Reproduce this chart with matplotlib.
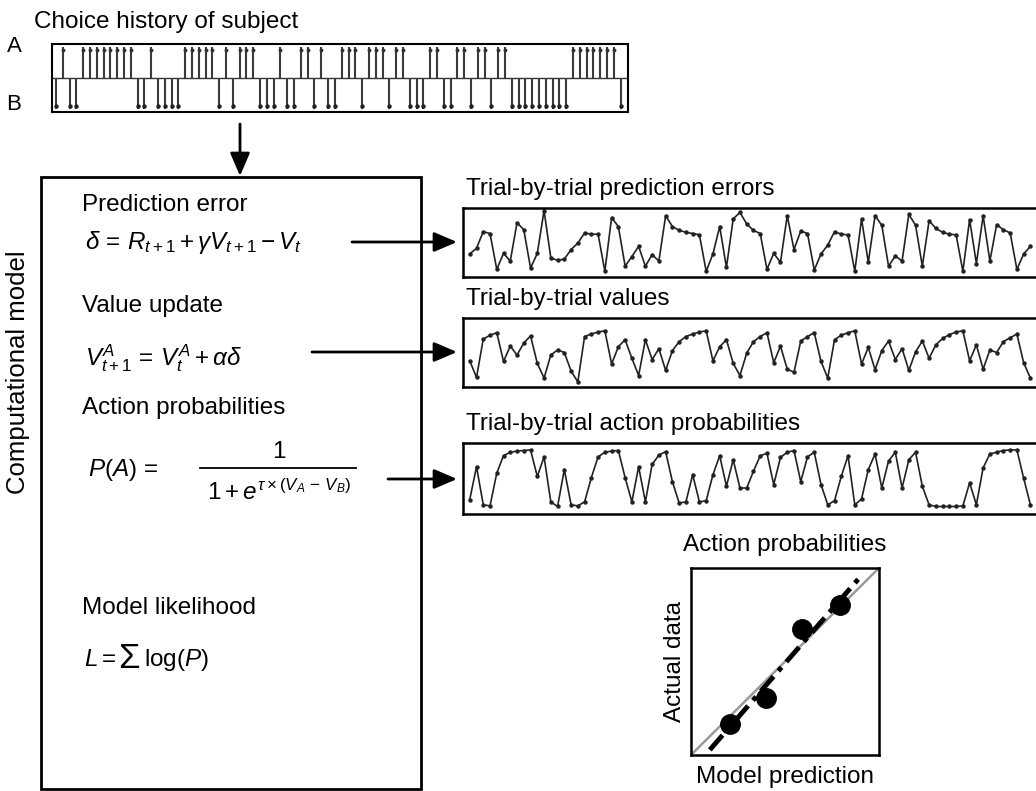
import numpy as np
import matplotlib.pyplot as plt
from matplotlib.patches import Rectangle

plt.rcParams['font.family'] = ['Liberation Sans', 'DejaVu Sans']
plt.rcParams['mathtext.fontset'] = 'custom'
plt.rcParams['mathtext.rm'] = 'Liberation Sans'
plt.rcParams['mathtext.it'] = 'Liberation Sans:italic'
plt.rcParams['mathtext.bf'] = 'Liberation Sans:bold'

W, H = 1036, 791

# choice on each trial (A = upper row, B = lower row)
choices = list("BABB" "AAAAAAAA" "BBA" "BBBB" "AAAAA" "BABAAA" "BBBA" "BBAA"
               "BABB" "AAAB" "AAAB" "AAB" "BB" "AA" "BB" "AA" "B" "AA" "B" "AA"
               "BBBBBBBBB" "AAAAAAA" "B")
trials = np.arange(len(choices))

pred_errors = [0.32, 0.41, 0.67, 0.64, 0.08, 0.33, 0.21, 0.81, 0.70, 0.10,
               0.33, 1.00, 0.26, 0.22, 0.24, 0.39, 0.49, 0.65, 0.63, 0.63,
               0.05, 0.89, 0.75, 0.13, 0.28, 0.44, 0.13, 0.31, 0.21, 0.92,
               0.75, 0.69, 0.66, 0.64, 0.62, 0.05, 0.32, 0.75, 0.11, 0.87,
               0.97, 0.79, 0.69, 0.64, 0.08, 0.33, 0.19, 0.92, 0.39, 0.68,
               0.64, 0.07, 0.32, 0.46, 0.67, 0.63, 0.62, 0.05, 0.87, 0.19,
               0.92, 0.77, 0.13, 0.29, 0.21, 0.94, 0.77, 0.13, 0.84, 0.72,
               0.66, 0.63, 0.62, 0.05, 0.86, 0.17, 0.92, 0.21, 0.78, 0.70,
               0.65, 0.08, 0.32, 0.44]

values = [0.37, 0.11, 0.71, 0.77, 0.81, 0.36, 0.60, 0.46, 0.65, 0.76,
          0.33, 0.10, 0.46, 0.54, 0.50, 0.21, 0.04, 0.75, 0.79, 0.82,
          0.84, 0.32, 0.59, 0.70, 0.41, 0.14, 0.70, 0.39, 0.56, 0.22,
          0.53, 0.67, 0.75, 0.79, 0.82, 0.84, 0.37, 0.59, 0.70, 0.33,
          0.14, 0.49, 0.67, 0.75, 0.81, 0.34, 0.60, 0.24, 0.19, 0.68,
          0.75, 0.81, 0.36, 0.10, 0.70, 0.77, 0.81, 0.84, 0.32, 0.58,
          0.23, 0.53, 0.68, 0.39, 0.56, 0.22, 0.51, 0.68, 0.41, 0.62,
          0.72, 0.78, 0.82, 0.84, 0.37, 0.62, 0.24, 0.54, 0.50, 0.67,
          0.73, 0.79, 0.34, 0.10]

action_probs = [0.14, 0.71, 0.05, 0.03, 0.60, 0.90, 0.96, 0.98, 0.99, 1.00,
                0.54, 0.88, 0.10, 0.02, 0.66, 0.05, 0.03, 0.10, 0.52, 0.88,
                0.96, 0.98, 0.99, 0.52, 0.10, 0.71, 0.10, 0.75, 0.91, 0.97,
                0.45, 0.08, 0.10, 0.57, 0.10, 0.12, 0.57, 0.90, 0.37, 0.83,
                0.34, 0.34, 0.63, 0.90, 0.94, 0.40, 0.87, 0.96, 0.99, 0.45,
                0.88, 0.96, 0.40, 0.05, 0.12, 0.54, 0.90, 0.05, 0.15, 0.66,
                0.93, 0.34, 0.81, 0.96, 0.34, 0.83, 0.96, 0.37, 0.05, 0.02,
                0.02, 0.02, 0.02, 0.03, 0.43, 0.05, 0.69, 0.93, 0.96, 0.99,
                1.00, 1.00, 0.51, 0.05]

model_pred = [0.205, 0.397, 0.593, 0.795]
actual_data = [0.167, 0.306, 0.672, 0.803]

fig = plt.figure(figsize=(W / 100, H / 100), dpi=100)
bg = fig.add_axes([0, 0, 1, 1])
bg.set_xlim(0, W)
bg.set_ylim(H, 0)
bg.axis('off')


def box_axes(x0, y0, x1, y1, lw=1.8):
    ax = fig.add_axes([x0 / W, 1 - y1 / H, (x1 - x0) / W, (y1 - y0) / H])
    ax.set_xticks([])
    ax.set_yticks([])
    for s in ax.spines.values():
        s.set_linewidth(lw)
    return ax


def arrow(x0, y0, x1, y1):
    bg.annotate('', xy=(x1, y1), xytext=(x0, y0),
                arrowprops=dict(arrowstyle='-|>,head_length=0.7,head_width=0.3',
                                color='k', lw=2, shrinkA=0, shrinkB=0,
                                mutation_scale=20))


fs = 17.5

# choice history
bg.text(34, 22, 'Choice history of subject', fontsize=fs, va='center')
bg.text(14, 47, 'A', fontsize=16, va='center', ha='center')
bg.text(14, 104, 'B', fontsize=16, va='center', ha='center')
ch = box_axes(52, 44, 628, 112, lw=1.5)
ch.set_xlim(-0.6, 84.1)
ch.set_ylim(-0.1, 1.1)
ch.hlines(0.5, -0.6, 84.1, color='#333333', lw=1)
for t, c in zip(trials, choices):
    if c == 'A':
        ch.vlines(t, 0.5, 1.05, color='#3a3a3a', lw=1.5)
        ch.plot(t, 1, 'o', color='#333333', ms=1.8)
    else:
        ch.vlines(t, -0.05, 0.5, color='#3a3a3a', lw=1.5)
        ch.plot(t, 0, 'o', color='#222222', ms=2.2)

arrow(240, 124, 240, 176)

# computational model box
bg.add_patch(Rectangle((41, 177), 380, 612, fill=False, lw=2, ec='k'))
bg.text(18, 372, 'Computational model', fontsize=18.5, rotation=90,
        va='center', ha='center')

bg.text(82, 205, 'Prediction error', fontsize=fs, va='center')
bg.text(85, 242, r'$\delta\,=\,R_{t+1} + \gamma V_{t+1} - V_t$', fontsize=fs, va='center')
bg.text(82, 306, 'Value update', fontsize=fs, va='center')
bg.text(85, 358, r'$V^A_{t+1}\,=\,V^A_t + \alpha\delta$', fontsize=fs, va='center')
bg.text(82, 408, 'Action probabilities', fontsize=fs, va='center')
bg.text(88, 470, r'$P(A)\,=\,$', fontsize=fs, va='center')
bg.text(279, 452, '1', fontsize=fs, va='center', ha='center')
bg.plot([200, 356], [468, 468], color='k', lw=1.3)
bg.text(279, 492, r'$1 + e^{\tau \times (V_A\,-\,V_B)}$', fontsize=fs,
        va='center', ha='center')
bg.text(82, 608, 'Model likelihood', fontsize=fs, va='center')
bg.text(84, 660, r'$L$', fontsize=fs, va='center')
bg.text(102, 660, '=', fontsize=fs, va='center')
bg.text(118, 659, '\u03a3', fontsize=25, va='center')
bg.text(144, 660, r'log($P$)', fontsize=fs, va='center')

arrow(352, 242, 457, 242)
arrow(312, 352, 457, 352)
arrow(388, 479, 457, 479)

# trial-by-trial traces
traces = [
    ('Trial-by-trial prediction errors', pred_errors, 208, 277, (-0.04, 1.04)),
    ('Trial-by-trial values', values, 318, 387, (-0.04, 1.04)),
    ('Trial-by-trial action probabilities', action_probs, 443, 514, (-0.11, 1.12)),
]
for title, vals, y0, y1, ylim in traces:
    bg.text(466, y0 - 19, title, fontsize=fs, va='center')
    ax = box_axes(463, y0, 1050, y1)
    ax.plot(trials, vals, '-o', color='#222222', lw=1.2, ms=2.2)
    ax.set_xlim(-1.0, 85.9)
    ax.set_ylim(*ylim)

# model fit scatter
sc = box_axes(691, 568, 879, 755)
sc.set_xlim(0, 1)
sc.set_ylim(0, 1)
sc.plot([0, 1], [0, 1], color='#9a9a9a', lw=1.8)
k, b = np.polyfit(model_pred, actual_data, 1)
xf = np.array([0.1, 0.89])
sc.plot(xf, k * xf + b, color='k', lw=3.5, linestyle=(0, (4, 1.5, 1, 1.5)))
sc.plot(model_pred, actual_data, 'o', color='k', ms=14)
bg.text(785, 545, 'Action probabilities', fontsize=fs, va='center', ha='center')
bg.text(785, 777, 'Model prediction', fontsize=fs, va='center', ha='center')
bg.text(675, 661, 'Actual data', fontsize=fs, rotation=90, va='center', ha='center')

fig.savefig('out.png', dpi=100)
